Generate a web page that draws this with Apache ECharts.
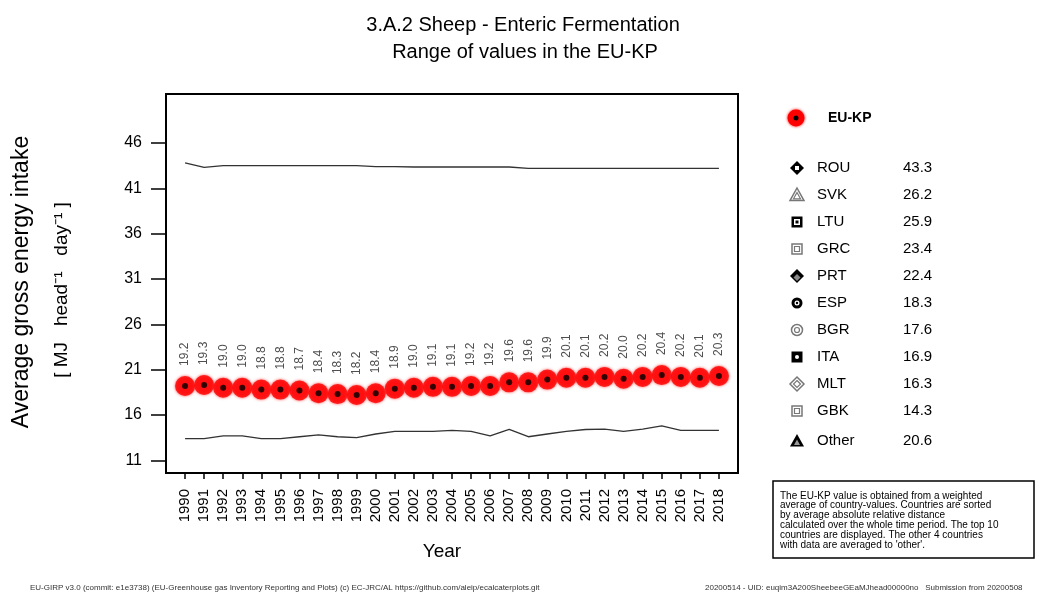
<!DOCTYPE html>
<html><head><meta charset="utf-8">
<script src="https://cdn.jsdelivr.net/npm/echarts@6/dist/echarts.min.js"></script>
<style>html,body{margin:0;padding:0;background:#fff}#c{width:1037px;height:592px}</style>
</head><body><div id="c"></div>
<script>
var years = [1990,1991,1992,1993,1994,1995,1996,1997,1998,1999,2000,2001,2002,2003,2004,2005,2006,2007,2008,2009,2010,2011,2012,2013,2014,2015,2016,2017,2018];
var euKP = [19.2,19.3,19.0,19.0,18.8,18.8,18.7,18.4,18.3,18.2,18.4,18.9,19.0,19.1,19.1,19.2,19.2,19.6,19.6,19.9,20.1,20.1,20.2,20.0,20.2,20.4,20.2,20.1,20.3];
var maxLine = [43.8,43.3,43.5,43.5,43.5,43.5,43.5,43.5,43.5,43.5,43.4,43.4,43.35,43.35,43.35,43.35,43.35,43.35,43.2,43.2,43.2,43.2,43.2,43.2,43.2,43.2,43.2,43.2,43.2];
var minLine = [13.4,13.4,13.7,13.7,13.4,13.4,13.6,13.8,13.6,13.5,13.9,14.2,14.2,14.2,14.3,14.2,13.7,14.4,13.6,13.9,14.2,14.4,14.45,14.2,14.45,14.8,14.3,14.3,14.3];
var yTicks = [11,16,21,26,31,36,41,46];
var legendCountries = ['ROU','SVK','LTU','GRC','PRT','ESP','BGR','ITA','MLT','GBK','Other'];
var legendValues = ['43.3','26.2','25.9','23.4','22.4','18.3','17.6','16.9','16.3','14.3','20.6'];

var FONT = '"Liberation Sans", Arial, sans-serif';
function pair(a){ return a.map(function(v,i){ return [years[i], v]; }); }

var chart = echarts.init(document.getElementById('c'), null, {renderer:'canvas'});

function diamond(cx,cy,r){ return [[cx,cy-r],[cx+r,cy],[cx,cy+r],[cx-r,cy]]; }
function tri(cx,cy,r){ return [[cx,cy-r],[cx+r,cy+r*0.8],[cx-r,cy+r*0.8]]; }
function sym(kind, cx, cy){
  var g=[], k='#000', gr='#777';
  if(kind==='ROU'){ g.push({type:'polygon',shape:{points:diamond(cx,cy,7)},style:{fill:k}}); g.push({type:'rect',shape:{x:cx-2,y:cy-2,width:4,height:4},style:{fill:'#fff'}}); }
  else if(kind==='SVK'){ g.push({type:'polygon',shape:{points:tri(cx,cy,7)},style:{fill:'#fff',stroke:gr,lineWidth:1.5}}); g.push({type:'polygon',shape:{points:tri(cx,cy+1,3.5)},style:{fill:'none',stroke:gr,lineWidth:1.2}}); }
  else if(kind==='LTU'){ g.push({type:'rect',shape:{x:cx-5.5,y:cy-5.5,width:11,height:11},style:{fill:k}}); g.push({type:'rect',shape:{x:cx-3,y:cy-3,width:6,height:6},style:{fill:'#fff'}}); g.push({type:'rect',shape:{x:cx-1.5,y:cy-1.5,width:3,height:3},style:{fill:k}}); }
  else if(kind==='GRC'||kind==='GBK'){ g.push({type:'rect',shape:{x:cx-5,y:cy-5,width:10,height:10},style:{fill:'#fff',stroke:gr,lineWidth:1.5}}); g.push({type:'rect',shape:{x:cx-2.5,y:cy-2.5,width:5,height:5},style:{fill:'none',stroke:gr,lineWidth:1.2}}); }
  else if(kind==='PRT'){ g.push({type:'polygon',shape:{points:diamond(cx,cy,7)},style:{fill:k}}); g.push({type:'polygon',shape:{points:diamond(cx,cy+1.5,3.5)},style:{fill:'#888'}}); }
  else if(kind==='ESP'){ g.push({type:'circle',shape:{cx:cx,cy:cy,r:5.5},style:{fill:k}}); g.push({type:'circle',shape:{cx:cx,cy:cy,r:2.5},style:{fill:'#fff'}}); g.push({type:'circle',shape:{cx:cx,cy:cy,r:1.2},style:{fill:k}}); }
  else if(kind==='BGR'){ g.push({type:'circle',shape:{cx:cx,cy:cy,r:5.5},style:{fill:'#fff',stroke:gr,lineWidth:1.5}}); g.push({type:'circle',shape:{cx:cx,cy:cy,r:2.5},style:{fill:'none',stroke:gr,lineWidth:1.2}}); }
  else if(kind==='ITA'){ g.push({type:'rect',shape:{x:cx-5.5,y:cy-5.5,width:11,height:11},style:{fill:k}}); g.push({type:'circle',shape:{cx:cx,cy:cy,r:2},style:{fill:'#fff'}}); }
  else if(kind==='MLT'){ g.push({type:'polygon',shape:{points:diamond(cx,cy,7)},style:{fill:'#fff',stroke:gr,lineWidth:1.5}}); g.push({type:'polygon',shape:{points:diamond(cx,cy,3.5)},style:{fill:'none',stroke:gr,lineWidth:1.2}}); }
  else if(kind==='Other'){ g.push({type:'polygon',shape:{points:tri(cx,cy,7)},style:{fill:k}}); g.push({type:'polygon',shape:{points:tri(cx,cy+1.5,3)},style:{fill:'#999'}}); }
  return g;
}

var graphics = [];
graphics.push({type:'text',style:{x:523,y:25,text:'3.A.2 Sheep - Enteric Fermentation',font:'20px '+FONT,fill:'#000',align:'center',verticalAlign:'middle'}});
graphics.push({type:'text',style:{x:525,y:52,text:'Range of values in the EU-KP',font:'20px '+FONT,fill:'#000',align:'center',verticalAlign:'middle'}});
graphics.push({type:'text',rotation:Math.PI/2,x:22,y:282,style:{x:0,y:0,text:'Average gross energy intake',font:'23px '+FONT,fill:'#000',align:'center',verticalAlign:'middle'}});
graphics.push({type:'text',rotation:Math.PI/2,x:62,y:290,style:{x:0,y:0,text:'[ MJ   head\u207B\u00B9   day\u207B\u00B9 ]',font:'19px '+FONT,fill:'#000',align:'center',verticalAlign:'middle'}});
graphics.push({type:'text',style:{x:442,y:552,text:'Year',font:'19px '+FONT,fill:'#000',align:'center',verticalAlign:'middle'}});
graphics.push({type:'circle',shape:{cx:796,cy:118,r:8.5},style:{fill:'#ff0000',shadowBlur:3,shadowColor:'#ff0000'}});
graphics.push({type:'circle',shape:{cx:796,cy:118,r:2.5},style:{fill:'#000'}});
graphics.push({type:'text',style:{x:828,y:118,text:'EU-KP',font:'bold 14px '+FONT,fill:'#000',align:'left',verticalAlign:'middle'}});
var ly = [168,195,222,249,276,303,330,357,384,411,441];
legendCountries.forEach(function(c,i){
  graphics = graphics.concat(sym(c,797,ly[i]));
  graphics.push({type:'text',style:{x:817,y:ly[i],text:c,font:'15px '+FONT,fill:'#000',align:'left',verticalAlign:'middle'}});
  graphics.push({type:'text',style:{x:903,y:ly[i],text:legendValues[i],font:'15px '+FONT,fill:'#000',align:'left',verticalAlign:'middle'}});
});
graphics.push({type:'rect',shape:{x:773,y:481,width:261,height:77},style:{fill:'#fff',stroke:'#000',lineWidth:1.5}});
graphics.push({type:'text',style:{x:780,y:491,text:"The EU-KP value is obtained from a weighted\naverage of country-values. Countries are sorted\nby average absolute relative distance\ncalculated over the whole time period. The top 10\ncountries are displayed. The other 4 countries\nwith data are averaged to 'other'.",font:'10px '+FONT,lineHeight:9.8,fill:'#000',align:'left',verticalAlign:'top'}});
graphics.push({type:'text',style:{x:30,y:588,text:'EU-GIRP v3.0 (commit: e1e3738) (EU-Greenhouse gas Inventory Reporting and Plots) (c) EC-JRC/AL https://github.com/aleip/ecalcaterplots.git',font:'8px '+FONT,fill:'#333',align:'left',verticalAlign:'middle'}});
graphics.push({type:'text',style:{x:705,y:588,text:'20200514 - UID: euqim3A200SheebeeGEaMJhead00000no   Submission from 20200508',font:'8px '+FONT,fill:'#333',align:'left',verticalAlign:'middle'}});

var option = {
  backgroundColor:'#fff',
  animation:false,
  grid:{left:166,right:299,top:94,bottom:119,show:true,borderColor:'#000',borderWidth:2,backgroundColor:'transparent'},
  xAxis:{type:'value',min:1989,max:2019,
    axisLine:{show:false},
    axisTick:{show:true,customValues:years,length:6,lineStyle:{color:'#000',width:1.5}},
    axisLabel:{customValues:years,rotate:90,fontSize:15,fontFamily:FONT,color:'#000',margin:16,formatter:function(v){return String(v);}},
    splitLine:{show:false}},
  yAxis:{type:'value',min:9.6,max:51.4,
    axisLine:{show:true,onZero:false,lineStyle:{color:'#000',width:1.5}},
    axisTick:{show:true,customValues:yTicks,length:15,lineStyle:{color:'#000',width:1.5}},
    axisLabel:{customValues:yTicks,fontSize:16,fontFamily:FONT,color:'#000',margin:24},
    splitLine:{show:false}},
  graphic:graphics,
  series:[
    {type:'line',data:pair(maxLine),symbol:'none',lineStyle:{color:'#333',width:1.3},silent:true},
    {type:'line',data:pair(minLine),symbol:'none',lineStyle:{color:'#333',width:1.3},silent:true},
    {type:'scatter',data:pair(euKP),symbol:'circle',symbolSize:20,
      itemStyle:{color:'#ff0000',shadowBlur:3,shadowColor:'#ff2020'},
      label:{show:true,position:'top',distance:10,rotate:90,align:'left',verticalAlign:'middle',
        fontSize:12,fontFamily:FONT,color:'#222',formatter:function(p){return p.value[1].toFixed(1);}}},
    {type:'scatter',data:pair(euKP),symbol:'circle',symbolSize:6,itemStyle:{color:'#000'},z:5}
  ]
};
chart.setOption(option);
</script></body></html>
